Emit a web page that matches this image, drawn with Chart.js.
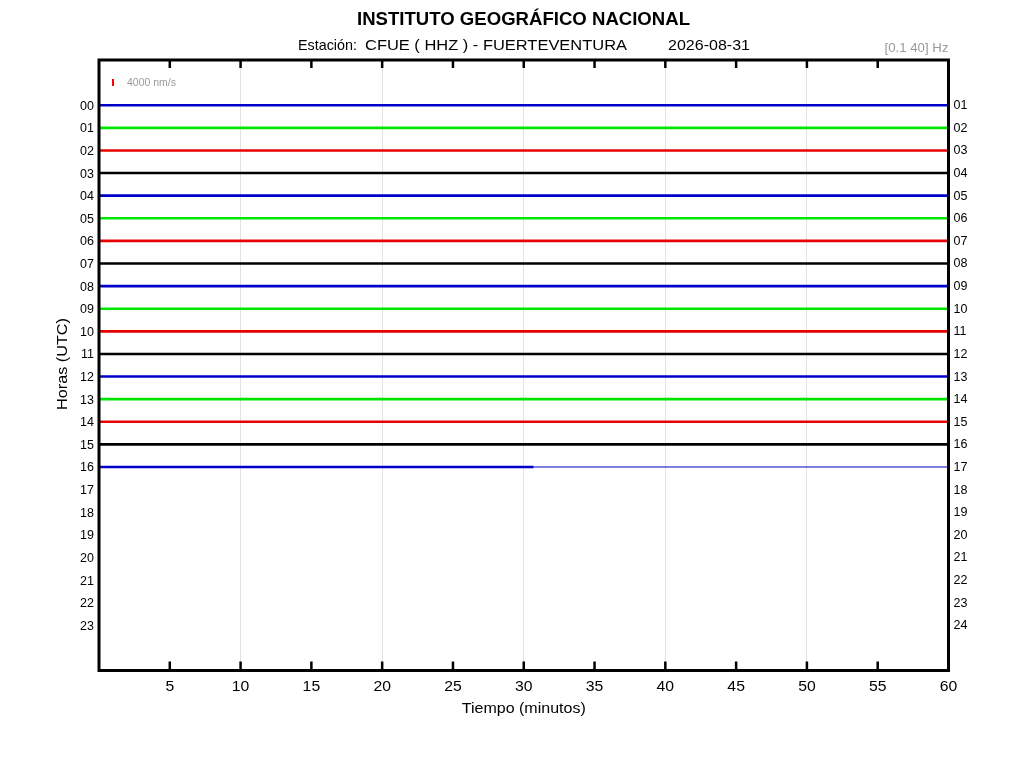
<!DOCTYPE html>
<html>
<head>
<meta charset="utf-8">
<script src="https://cdn.jsdelivr.net/npm/chart.js@4.4.1/dist/chart.umd.min.js"></script>
<style>
  html, body { margin: 0; padding: 0; background: #ffffff; }
  #wrap { width: 1024px; height: 768px; position: relative; }
</style>
</head>
<body>
<div id="wrap"><canvas id="c" width="1024" height="768"></canvas></div>
<script>
// ---- data ----
const titleText = 'INSTITUTO GEOGRÁFICO NACIONAL';
const stationLabel = 'Estación:';
const stationText = 'CFUE ( HHZ ) - FUERTEVENTURA';
const dateText = '2026-08-31';
const bandText = '[0.1 40] Hz';
const scaleText = '4000 nm/s';
const xTitle = 'Tiempo (minutos)';
const yTitle = 'Horas (UTC)';
const hourTicks = [0,1,2,3,4,5,6,7,8,9,10,11,12,13,14,15,16,17,18,19,20,21,22,23];
const recordedHours = [0,1,2,3,4,5,6,7,8,9,10,11,12,13,14,15,16];
const lastHourDataEnd = 30.7;   // minutes of signal in the last (current) hour
const minuteTicks = [5,10,15,20,25,30,35,40,45,50,55,60];
const traceColors = ['#0000c8', '#00e600', '#e60000', '#000000'];

const pad2 = v => String(v).padStart(2, '0');

const datasets = [];
recordedHours.forEach((h, i) => {
  const color = traceColors[h % 4];
  const isLast = i === recordedHours.length - 1;
  const end = isLast ? lastHourDataEnd : 60;
  datasets.push({
    data: [{x: 0, y: h}, {x: end, y: h}],
    borderColor: color, borderWidth: 2.6, pointRadius: 0, tension: 0
  });
  if (isLast) {
    datasets.push({
      data: [{x: end, y: h}, {x: 60, y: h}],
      borderColor: color, borderWidth: 1.2, pointRadius: 0, tension: 0
    });
  }
});

const FONT = '"Liberation Sans", Arial, Helvetica, sans-serif';

// draw text horizontally stretched so it spans a given width
function fitText(ctx, text, x, y, width, font, color, align) {
  ctx.save();
  ctx.font = font;
  ctx.fillStyle = color;
  ctx.textBaseline = 'middle';
  ctx.textAlign = 'left';
  const w = ctx.measureText(text).width;
  const sx = width / w;
  let left = x;
  if (align === 'center') left = x - width / 2;
  else if (align === 'right') left = x - width;
  ctx.translate(left, y);
  ctx.scale(sx, 1);
  ctx.fillText(text, 0, 0);
  ctx.restore();
}
function stretchText(ctx, text, x, y, font, color, align, sx) {
  ctx.save();
  ctx.font = font;
  const w = ctx.measureText(text).width * sx;
  ctx.restore();
  fitText(ctx, text, x, y, w, font, color, align);
}

const decor = {
  id: 'decor',
  afterDraw(chart) {
    const ctx = chart.ctx;
    const a = chart.chartArea;
    const xs = chart.scales.x;
    const ys = chart.scales.y;
    const ys2 = chart.scales.y2;
    ctx.save();
    // inward ticks top and bottom
    ctx.strokeStyle = '#000';
    ctx.lineWidth = 2.5;
    minuteTicks.forEach(m => {
      if (m >= 60) return;
      const px = xs.getPixelForValue(m);
      ctx.beginPath();
      ctx.moveTo(px, a.top); ctx.lineTo(px, a.top + 8);
      ctx.moveTo(px, a.bottom); ctx.lineTo(px, a.bottom - 9);
      ctx.stroke();
    });
    // frame
    ctx.strokeStyle = '#000';
    ctx.lineWidth = 3;
    ctx.strokeRect(a.left, a.top, a.right - a.left, a.bottom - a.top);
    // amplitude scale bar (4000 nm/s)
    const barY = ys.getPixelForValue(-1);
    ctx.strokeStyle = '#ff0000';
    ctx.lineWidth = 2;
    ctx.beginPath();
    ctx.moveTo(a.left + 14, barY - 3.5); ctx.lineTo(a.left + 14, barY + 3.5);
    ctx.stroke();
    ctx.restore();

    fitText(ctx, scaleText, a.left + 28, barY + 0.5, 49, '10px ' + FONT, '#9a9a9a', 'left');

    // x tick labels
    minuteTicks.forEach(m => {
      stretchText(ctx, String(m), xs.getPixelForValue(m), 687, '15px ' + FONT, '#000', 'center', 1.05);
    });
    // y tick labels (left: hour start, right: hour end)
    hourTicks.forEach(h => {
      stretchText(ctx, pad2(h), a.left - 5, ys.getPixelForValue(h) + 1, '12.5px ' + FONT, '#000', 'right', 1.0);
      stretchText(ctx, pad2(h + 1), a.right + 5, ys2.getPixelForValue(h) + 0.5, '12.5px ' + FONT, '#000', 'left', 1.0);
    });
    // axis titles
    fitText(ctx, xTitle, (a.left + a.right) / 2, 709, 124, '15px ' + FONT, '#000', 'center');
    ctx.save();
    ctx.translate(63, 364);
    ctx.rotate(-Math.PI / 2);
    fitText(ctx, yTitle, 0, 0, 92, '15px ' + FONT, '#000', 'center');
    ctx.restore();

    // titles
    fitText(ctx, titleText, 357, 20, 333, 'bold 17.7px ' + FONT, '#000', 'left');
    fitText(ctx, stationLabel, 298, 46, 59, '15px ' + FONT, '#000', 'left');
    fitText(ctx, stationText, 365, 46, 262, '15px ' + FONT, '#000', 'left');
    fitText(ctx, dateText, 668, 46, 82, '15px ' + FONT, '#000', 'left');
    fitText(ctx, bandText, a.right, 48, 64, '13px ' + FONT, '#9a9a9a', 'right');
  }
};

new Chart(document.getElementById('c'), {
  type: 'line',
  data: { datasets },
  options: {
    responsive: false,
    animation: false,
    devicePixelRatio: 1,
    layout: { padding: { top: 60, left: 0, right: 0, bottom: 0 } },
    plugins: { legend: { display: false }, tooltip: { enabled: false }, title: { display: false } },
    scales: {
      x: {
        type: 'linear', position: 'bottom', min: 0, max: 60,
        afterFit: s => { s.height = 97.5; },
        afterBuildTicks: s => { s.ticks = [0].concat(minuteTicks).map(v => ({ value: v })); },
        ticks: { display: false, autoSkip: false },
        grid: {
          drawTicks: false,
          color: c => (c.tick && c.tick.value % 10 === 0 && c.tick.value > 0 && c.tick.value < 60) ? '#e2e2e2' : 'rgba(0,0,0,0)',
          lineWidth: 1
        },
        border: { display: false }
      },
      y: {
        type: 'linear', position: 'left', min: -2, max: 25, reverse: true,
        afterFit: s => { s.width = 99; },
        afterBuildTicks: s => { s.ticks = hourTicks.map(v => ({ value: v })); },
        ticks: { display: false, autoSkip: false },
        grid: { display: false, drawTicks: false },
        border: { display: false }
      },
      y2: {
        type: 'linear', position: 'right', min: -2, max: 25, reverse: true,
        afterFit: s => { s.width = 75.5; },
        afterBuildTicks: s => { s.ticks = hourTicks.map(v => ({ value: v })); },
        ticks: { display: false, autoSkip: false },
        grid: { display: false, drawTicks: false },
        border: { display: false }
      }
    }
  },
  plugins: [decor]
});
</script>
</body>
</html>
